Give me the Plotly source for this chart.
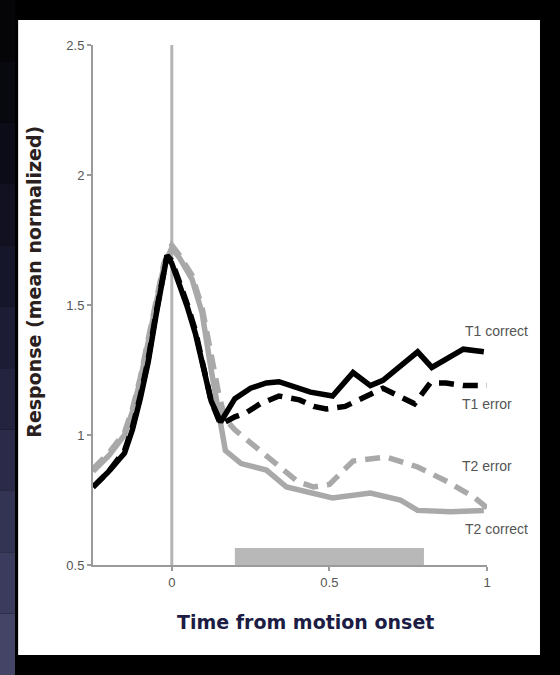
import plotly.graph_objects as go

# ---- data ----
t_t1_correct = [-0.25, -0.2, -0.15, -0.125, -0.1, -0.075, -0.05, -0.015, 0.0, 0.025, 0.05, 0.075, 0.1, 0.125, 0.155,
                0.2, 0.25, 0.3, 0.34, 0.38, 0.44, 0.51, 0.555, 0.575, 0.63, 0.67, 0.78, 0.825, 0.925, 0.99]
v_t1_correct = [0.80, 0.86, 0.93, 1.02, 1.14, 1.28, 1.46, 1.69, 1.66, 1.58, 1.49, 1.39, 1.26, 1.13, 1.05,
                1.14, 1.18, 1.20, 1.205, 1.19, 1.165, 1.15, 1.21, 1.24, 1.19, 1.21, 1.32, 1.26, 1.33, 1.32]

t_t1_error = [-0.25, -0.2, -0.15, -0.125, -0.1, -0.075, -0.05, -0.015, 0.0, 0.025, 0.05, 0.075, 0.1, 0.125, 0.155,
              0.2, 0.235, 0.28, 0.34, 0.405, 0.45, 0.49, 0.55, 0.59, 0.67, 0.72, 0.77, 0.82, 0.87, 0.925, 1.0]
v_t1_error = [0.80, 0.86, 0.94, 1.03, 1.15, 1.29, 1.47, 1.69, 1.67, 1.59, 1.50, 1.40, 1.27, 1.13, 1.04,
              1.07, 1.085, 1.12, 1.15, 1.135, 1.11, 1.10, 1.11, 1.135, 1.18, 1.15, 1.12, 1.20, 1.20, 1.19, 1.19]

t_t2_error = [-0.25, -0.2, -0.15, -0.125, -0.1, -0.075, -0.05, -0.025, 0.0, 0.025, 0.064, 0.096, 0.12, 0.15, 0.17,
              0.2, 0.25, 0.3, 0.335, 0.4, 0.45, 0.5, 0.575, 0.68, 0.78, 0.875, 0.96, 1.0]
v_t2_error = [0.87, 0.93, 1.01, 1.10, 1.22, 1.36, 1.52, 1.66, 1.73, 1.69, 1.615, 1.49, 1.34, 1.15, 1.06,
              1.02, 0.97, 0.92, 0.88, 0.82, 0.80, 0.81, 0.90, 0.915, 0.877, 0.82, 0.76, 0.72]

t_t2_correct = [-0.25, -0.2, -0.15, -0.125, -0.1, -0.075, -0.05, -0.025, 0.0, 0.025, 0.064, 0.096, 0.125, 0.157, 0.17,
                0.22, 0.3, 0.364, 0.44, 0.51, 0.63, 0.725, 0.78, 0.885, 0.99]
v_t2_correct = [0.86, 0.92, 1.00, 1.09, 1.21, 1.35, 1.51, 1.65, 1.72, 1.68, 1.60, 1.47, 1.25, 1.03, 0.94,
                0.89, 0.865, 0.80, 0.777, 0.758, 0.777, 0.75, 0.71, 0.705, 0.71]

series_names = ["T1 correct", "T1 error", "T2 error", "T2 correct"]
label_x = [1.03, 1.0, 1.0, 1.03]
label_y = [1.40, 1.12, 0.88, 0.64]

stim_window = [0.2, 0.8]
stim_bar_top = 0.565
onset_time = 0.0

x_range = [-0.25, 1.0]
y_range = [0.5, 2.5]
x_ticks = [0, 0.5, 1]
x_ticklabels = ["0", "0.5", "1"]
y_ticks = [0.5, 1, 1.5, 2, 2.5]
y_ticklabels = ["0.5", "1", "1.5", "2", "2.5"]
x_title = "Time from motion onset"
y_title = "Response (mean normalized)"

BLACK = "#000000"
GRAY = "#a9a9a9"
DASH = "15px,9px"
LW = 5.5

fig = go.Figure()

# vertical onset line
fig.add_trace(go.Scatter(x=[onset_time, onset_time], y=y_range, mode="lines",
                         line=dict(color="#b5b5b5", width=3), hoverinfo="skip", showlegend=False))

fig.add_trace(go.Scatter(x=t_t2_correct, y=v_t2_correct, mode="lines", name="T2 correct",
                         line=dict(color=GRAY, width=LW), showlegend=False))
fig.add_trace(go.Scatter(x=t_t2_error, y=v_t2_error, mode="lines", name="T2 error",
                         line=dict(color=GRAY, width=LW, dash=DASH), showlegend=False))
fig.add_trace(go.Scatter(x=t_t1_correct, y=v_t1_correct, mode="lines", name="T1 correct",
                         line=dict(color=BLACK, width=LW), showlegend=False))
fig.add_trace(go.Scatter(x=t_t1_error, y=v_t1_error, mode="lines", name="T1 error",
                         line=dict(color=BLACK, width=LW, dash=DASH), showlegend=False))

# stimulus window bar
fig.add_shape(type="rect", xref="x", yref="y", x0=stim_window[0], x1=stim_window[1],
              y0=y_range[0], y1=stim_bar_top, fillcolor="#b8b8b8", line=dict(width=0), layer="below")

# background panel & left gradient strip
fig.add_shape(type="rect", xref="paper", yref="paper", x0=-0.19, x1=1.1345, y0=-0.173, y1=1.048,
              fillcolor="white", line=dict(width=0), layer="below")
grad = ["#050508", "#08080f", "#0c0c18", "#111122", "#16162b", "#1c1c35", "#23233f",
        "#2b2b49", "#333353", "#3b3b5d", "#444466"]
n = len(grad)
y_lo, y_hi = -0.2115, 1.0865
for i, c in enumerate(grad):
    y1 = y_hi - (y_hi - y_lo) * i / n
    y0 = y_hi - (y_hi - y_lo) * (i + 1) / n
    fig.add_shape(type="rect", xref="paper", yref="paper", x0=-0.236, x1=-0.198, y0=y0, y1=y1,
                  fillcolor=c, line=dict(width=0), layer="below")

# series labels (positioned in paper space from the data-axis values)
def to_paper_x(v):
    return (v - x_range[0]) / (x_range[1] - x_range[0])

def to_paper_y(v):
    return (v - y_range[0]) / (y_range[1] - y_range[0])

for name, lx, ly in zip(series_names, label_x, label_y):
    fig.add_annotation(x=to_paper_x(lx), y=to_paper_y(ly), xref="paper", yref="paper", text=name,
                       showarrow=False,
                       font=dict(family="Liberation Sans", size=14, color="#555555"),
                       xanchor="center", yanchor="middle")

# axis titles
fig.add_annotation(x=0.54, y=-0.11, xref="paper", yref="paper", text="<b>%s</b>" % x_title,
                   showarrow=False, xanchor="center", yanchor="middle",
                   font=dict(family="DejaVu Sans", size=19, color="#1c1c44"))
fig.add_annotation(x=-0.152, y=0.545, xref="paper", yref="paper", text="<b>%s</b>" % y_title,
                   showarrow=False, xanchor="center", yanchor="middle", textangle=-90,
                   font=dict(family="DejaVu Sans", size=19, color="#2a2020"))

fig.update_layout(
    width=560, height=675,
    paper_bgcolor="black", plot_bgcolor="white",
    margin=dict(l=93, r=73, t=45, b=110),
    showlegend=False,
)
fig.update_xaxes(range=x_range, tickvals=x_ticks, ticktext=x_ticklabels,
                 showgrid=False, zeroline=False, showline=True, linecolor="#9a9a9a", linewidth=2,
                 ticks="outside", ticklen=4, tickcolor="#9a9a9a", tickwidth=2,
                 tickfont=dict(family="Liberation Sans", size=13, color="#555555"))
fig.update_yaxes(range=y_range, tickvals=y_ticks, ticktext=y_ticklabels,
                 showgrid=False, zeroline=False, showline=True, linecolor="#9a9a9a", linewidth=2,
                 ticks="outside", ticklen=4, tickcolor="#9a9a9a", tickwidth=2,
                 tickfont=dict(family="Liberation Sans", size=13, color="#555555"))

fig.write_html("out.html", config={"displayModeBar": False},
               post_script="document.body.style.margin='0';document.body.style.background='black';")
